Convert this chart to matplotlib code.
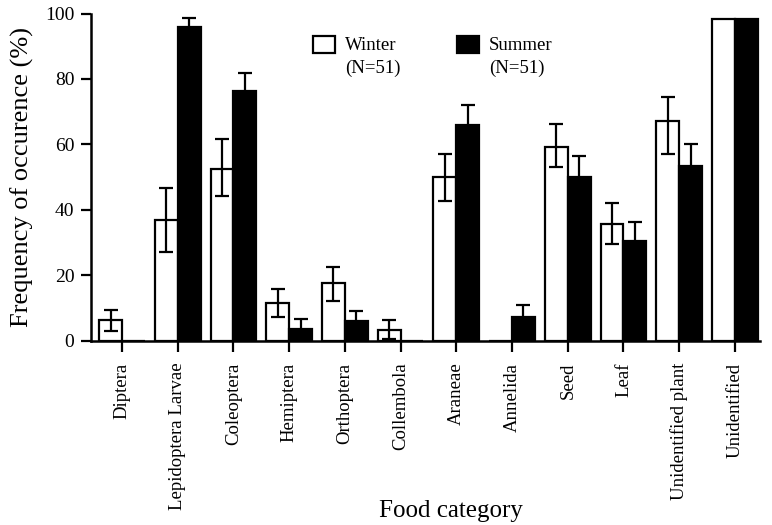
import matplotlib
matplotlib.use("Agg")
import matplotlib.pyplot as plt
from matplotlib.patches import Rectangle
import numpy as np

categories = ["Diptera", "Lepidoptera Larvae", "Coleoptera", "Hemiptera", "Orthoptera",
              "Collembola", "Araneae", "Annelida", "Seed", "Leaf",
              "Unidentified plant", "Unidentified"]
winter = [6.3, 36.8, 52.4, 11.4, 17.5, 3.2, 50.1, 0, 59.3, 35.6, 67.1, 98.2]
winter_err_lo = [3.5, 9.8, 8.2, 4.3, 5.3, 2.6, 7.4, 0, 6.3, 6.2, 10.0, 0]
winter_err_hi = [2.9, 9.7, 9.1, 4.3, 4.9, 3.0, 6.8, 0, 6.8, 6.6, 7.3, 0]
summer = [0, 96.0, 76.4, 3.4, 6.0, 0, 65.9, 7.3, 50.1, 30.4, 53.4, 98.2]
summer_err = [0, 2.6, 5.3, 3.1, 2.9, 0, 6.1, 3.6, 6.3, 5.9, 6.6, 0]

plt.rcParams['font.family'] = ['Liberation Serif', 'DejaVu Serif']

fig = plt.figure(figsize=(7.72, 5.25), dpi=100)
ax = fig.add_axes([91/772, 1-340.5/525, 669/772, 327/525])

x = np.arange(len(categories))
w = 0.41
ekw = dict(elinewidth=1.6, capthick=1.6)
ax.bar(x, winter, width=-w, align='edge', facecolor='white', edgecolor='black', linewidth=1.6, zorder=2)
ax.bar(x, summer, width=w, align='edge', facecolor='black', edgecolor='black', linewidth=1.6, zorder=2)

wi = [i for i in range(len(x)) if winter_err_hi[i] > 0]
ax.errorbar(x[wi] - w/2, np.array(winter)[wi],
            yerr=[np.array(winter_err_lo)[wi], np.array(winter_err_hi)[wi]],
            fmt='none', ecolor='black', capsize=4.7, zorder=3, **ekw)
si = [i for i in range(len(x)) if summer_err[i] > 0]
ax.errorbar(x[si] + w/2, np.array(summer)[si], yerr=np.array(summer_err)[si],
            fmt='none', ecolor='black', capsize=4.7, zorder=3, **ekw)

ax.set_xlim(-0.556, 11.45)
ax.set_ylim(0, 100)
ax.set_yticks([0, 20, 40, 60, 80, 100])
ax.set_yticklabels(['0', '20', '40', '60', '80', '100'])
ax.set_xticks(x)
ax.set_xticklabels(categories, rotation=90, fontsize=13.5)
ax.tick_params(axis='y', direction='out', length=7, width=1.6, labelsize=14, pad=5)
ax.tick_params(axis='x', direction='out', length=8, width=1.6, pad=8)
for s in ['top', 'right']:
    ax.spines[s].set_visible(False)
for s in ['left', 'bottom']:
    ax.spines[s].set_linewidth(1.8)

ax.set_ylabel("Frequency of occurence (%)", fontsize=19, labelpad=8)
fig.text(451/772, 1 - 511/525, "Food category", fontsize=18, ha='center', va='center')

# legend drawn manually
def px2ax(px, py):
    return ((px - 91) / 669, (340.5 - py) / 327)

for (sx, label, fc) in [(313, "Winter", 'white'), (457, "Summer", 'black')]:
    x0, y0 = px2ax(sx, 53)
    x1, y1 = px2ax(sx + 22, 36)
    ax.add_patch(Rectangle((x0, y0), x1 - x0, y1 - y0, transform=ax.transAxes,
                           facecolor=fc, edgecolor='black', linewidth=1.6, clip_on=False))
    tx, ty = px2ax(sx + 32, 45)
    ax.text(tx, ty, label, transform=ax.transAxes, fontsize=13.5, va='center', ha='left')
    tx, ty = px2ax(sx + 32, 68)
    ax.text(tx, ty, "(N=51)", transform=ax.transAxes, fontsize=13.5, va='center', ha='left')

fig.savefig("out.png", dpi=100)
